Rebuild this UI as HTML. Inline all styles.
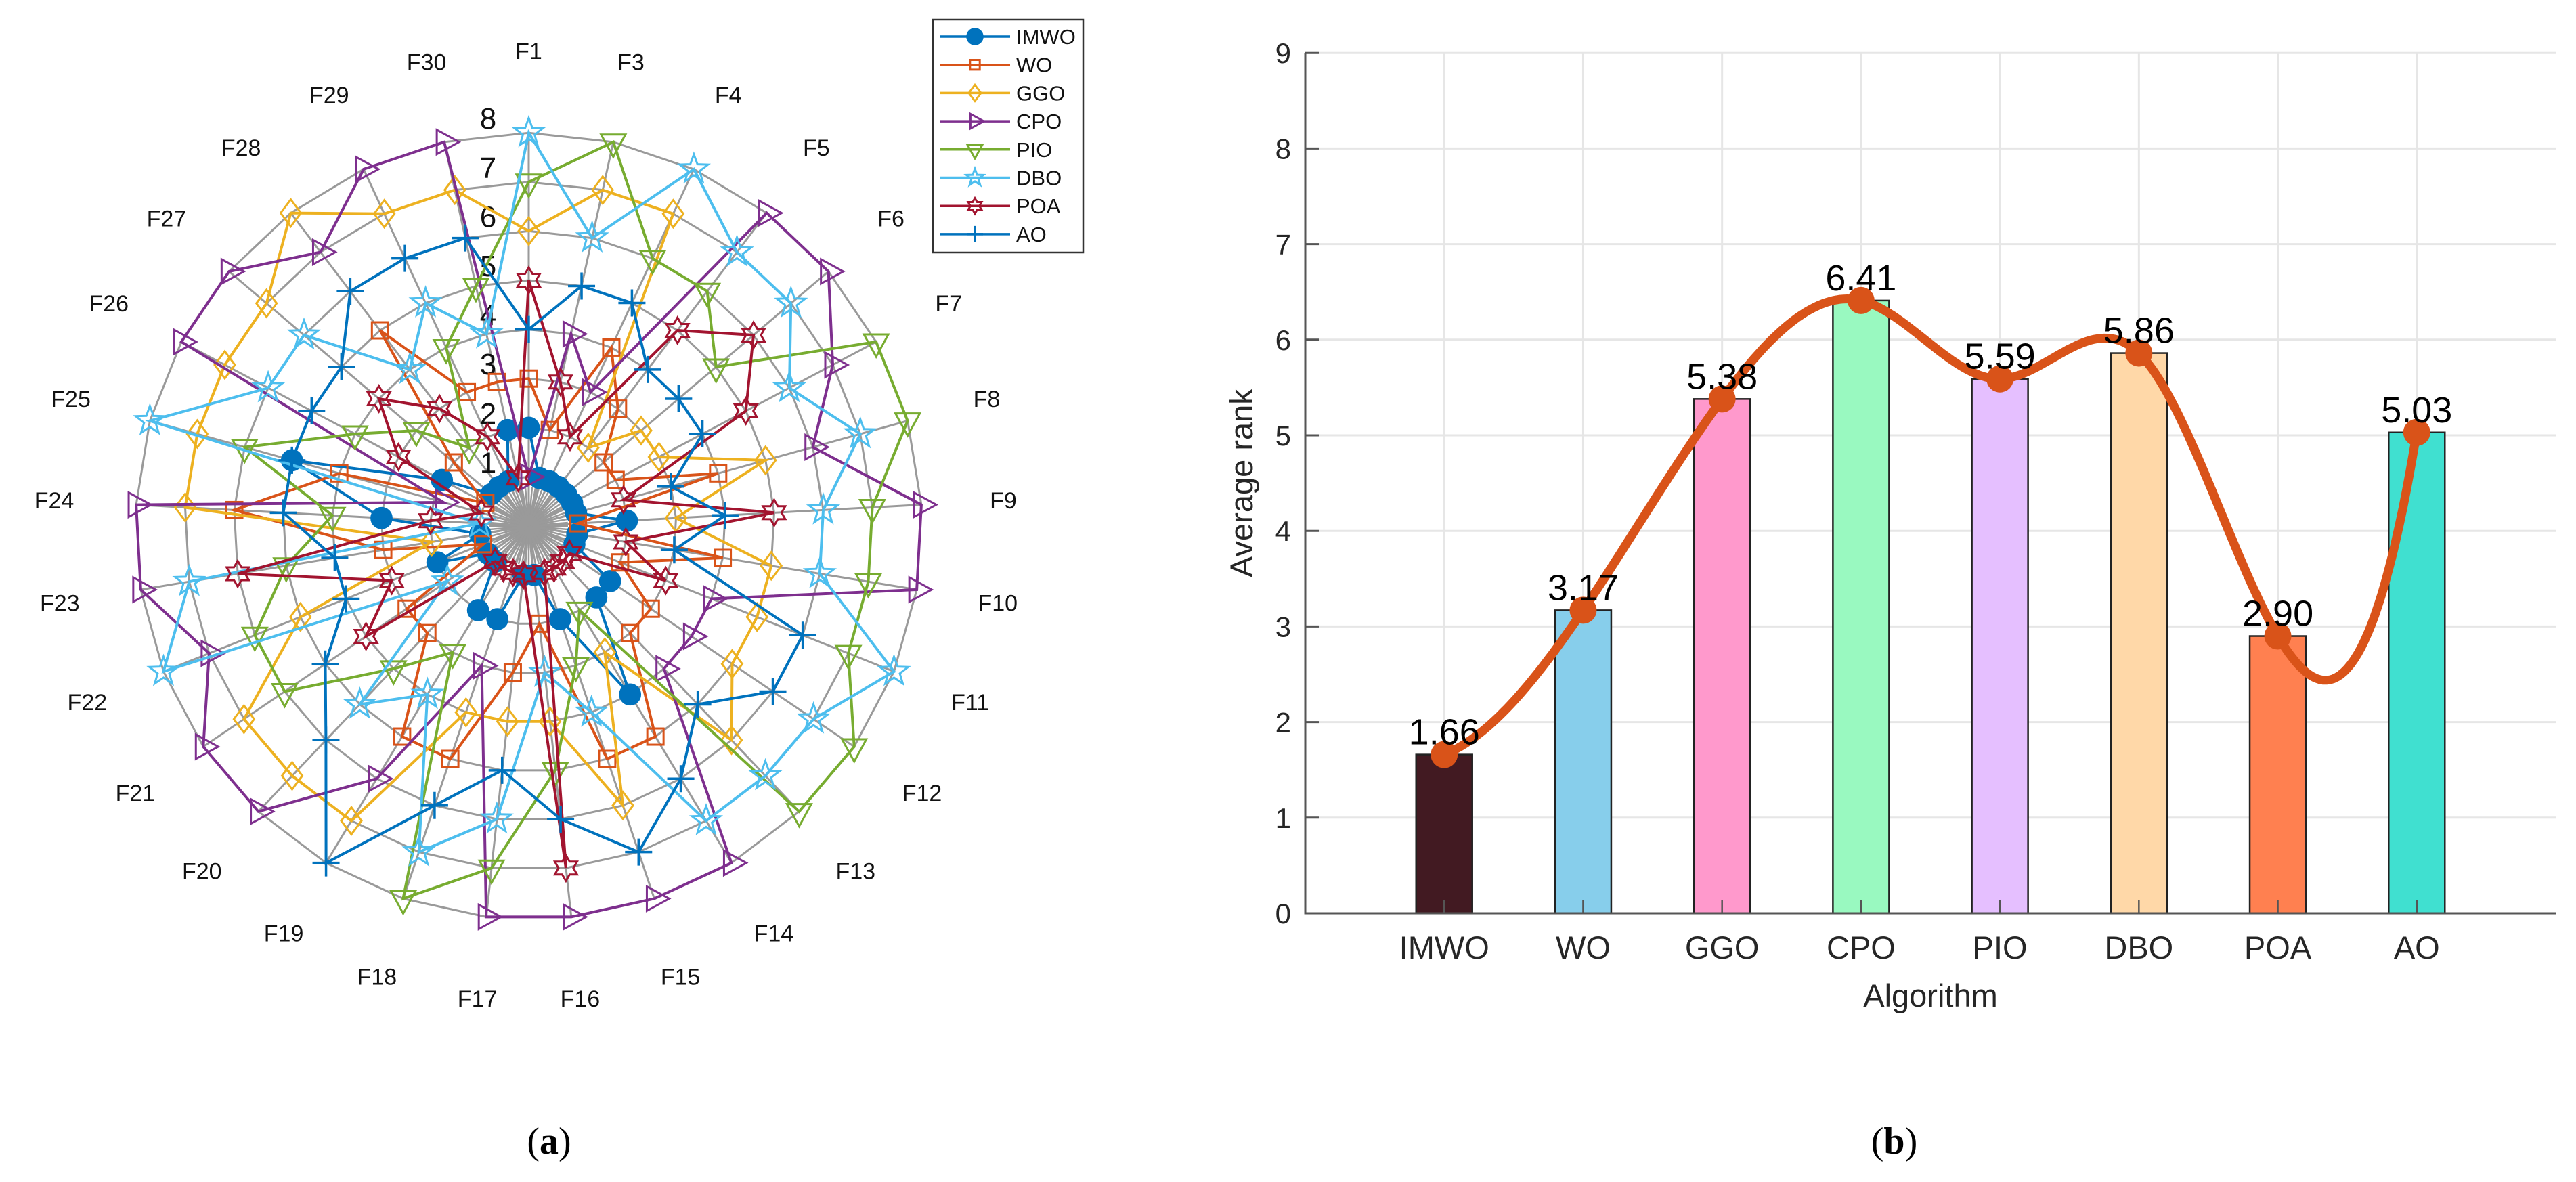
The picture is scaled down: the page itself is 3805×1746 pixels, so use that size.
<!DOCTYPE html>
<html><head><meta charset="utf-8"><style>
html,body{margin:0;padding:0;background:#fff;}
svg{display:block;}
text{font-family:"Liberation Sans",Arial,sans-serif;}
</style></head>
<body>
<svg id="root" width="3805" height="1746" viewBox="0 0 3805 1746" xmlns="http://www.w3.org/2000/svg">
<g id="radar"></g>
<g id="bar"></g>
<text x="811" y="1704" text-anchor="middle" style="font-family:'Liberation Serif',serif;font-size:56px">(<tspan font-weight="bold">a</tspan>)</text>
<text x="2798" y="1704" text-anchor="middle" style="font-family:'Liberation Serif',serif;font-size:56px">(<tspan font-weight="bold">b</tspan>)</text>
</svg>
<script>
// ---------- Radar data ----------
const funcs = ["F1","F3","F4","F5","F6","F7","F8","F9","F10","F11","F12","F13","F14","F15","F16","F17","F18","F19","F20","F21","F22","F23","F24","F25","F26","F27","F28","F29","F30"];
const seriesNames = ["IMWO","WO","GGO","CPO","PIO","DBO","POA","AO"];
const imwo = [2,1,1,1,1,1,1,2,1,1,2,2,4,2,1,1,2,2,1,1,2,1,3,5,2,1,1,1,2];
const wo   = [3,2,4,3,2,2,4,1,4,2,3,3,5,5,2,3,5,5,3,3,1,3,6,4,1,2,5,3,3];
const ggo  = [6,7,7,2,3,3,5,3,5,5,5,6,3,6,4,4,4,7,7,7,5,2,7,7,7,7,8,7,7];
const cpo  = [1,4,3,8,8,7,6,8,8,4,4,4,8,8,8,8,3,6,8,8,7,8,8,1.8,8,8,7,8,8];
const pio  = [7,8,6,6,5,8,8,7,7,7,8,8,2,3,5,7,8,3,4,6,6,5,4,6,4,3,2,4,5];
const dbo  = [8,6,8,7,7,6,7,6,6,8,7,7,7,4,3,6,7,4,5,2,8,7,1,8,6,6,4,5,4];
const poa  = [5,3,2,5,6,5,2,5,2,3,1,1,1,1,7,1,1,1,1,4,3,6,2,1,3,4,3,2,1];
const ao   = [4,5,5,4,4,4,3,4,3,6,6,5,6,7,6,5,6,8,6,5,4,4,5,5,5,5,6,6,6];
const ringTicks = [1,2,3,4,5,6,7,8];

// ---------- Bar data ----------
const algos = ["IMWO","WO","GGO","CPO","PIO","DBO","POA","AO"];
const avgRank = [1.66,3.17,5.38,6.41,5.59,5.86,2.90,5.03];
const valueLabels = ["1.66","3.17","5.38","6.41","5.59","5.86","2.90","5.03"];
const yTicks = [0,1,2,3,4,5,6,7,8,9];

const NS="http://www.w3.org/2000/svg";
function mk(tag, attrs, parent){const e=document.createElementNS(NS,tag);for(const k in attrs)e.setAttribute(k,attrs[k]);if(parent)parent.appendChild(e);return e;}

// ===== Radar =====
const R=document.getElementById('radar');
const cx=781, cy=777, unit=72.6, N=funcs.length;
function ang(i){return i*2*Math.PI/N;}
function px(i,v){return cx+Math.sin(ang(i))*v*unit;}
function py(i,v){return cy-Math.cos(ang(i))*v*unit;}

const hub=mk('g',{},R);


for(let k=0;k<72;k++){const a=k*2*Math.PI/72;mk('line',{x1:cx,y1:cy,x2:cx+Math.sin(a)*58,y2:cy-Math.cos(a)*58,stroke:'#999',"stroke-width":2.5},hub);}
ringTicks.forEach(r=>{
  let pts=[];for(let i=0;i<N;i++)pts.push(px(i,r).toFixed(1)+','+py(i,r).toFixed(1));
  const p=mk('polygon',{points:pts.join(' '),fill:'none',stroke:'#9a9a9a','stroke-width':3},R);
  
  
});
for(let i=0;i<N;i++){
  const l=mk('line',{x1:cx,y1:cy,x2:px(i,8),y2:py(i,8),stroke:'#9a9a9a','stroke-width':3},R);
  
  
}
ringTicks.forEach(r=>{
  const t=mk('text',{x:721,y:cy-r*unit-6,'font-size':44,'text-anchor':'middle',fill:'#111'},R);
  t.textContent=String(r);
  
  
});
for(let i=0;i<N;i++){
  const t=mk('text',{x:cx+Math.sin(ang(i))*702,y:cy-Math.cos(ang(i))*702+12,'font-size':34,'text-anchor':'middle',fill:'#111'},R);
  t.textContent=funcs[i];
  
  
}
const colors=['#0072BD','#D95319','#EDB120','#7E2F8E','#77AC30','#4DBEEE','#A2142F','#0072BD'];
const shapes=['circle','square','diamond','tri-right','tri-down','star5','hex','plus'];
function marker(g,shape,x,y,s,col){
  let e;
  if(shape==='circle'){e=mk('circle',{cx:x,cy:y,r:s*0.72,fill:col,stroke:col},g);}
  else if(shape==='square'){e=mk('rect',{x:x-s*0.6,y:y-s*0.6,width:s*1.2,height:s*1.2,fill:'none',stroke:col,'stroke-width':3},g);}
  else if(shape==='diamond'){e=mk('polygon',{points:`${x},${y-s} ${x+s*0.75},${y} ${x},${y+s} ${x-s*0.75},${y}`,fill:'none',stroke:col,'stroke-width':3},g);}
  else if(shape==='tri-right'){e=mk('polygon',{points:`${x-s*0.55},${y-s*0.9} ${x+s*1.1},${y} ${x-s*0.55},${y+s*0.9}`,fill:'none',stroke:col,'stroke-width':3},g);}
  else if(shape==='tri-down'){e=mk('polygon',{points:`${x-s*0.9},${y-s*0.55} ${x+s*0.9},${y-s*0.55} ${x},${y+s*1.1}`,fill:'none',stroke:col,'stroke-width':3},g);}
  else if(shape==='star5'){let p=[];for(let k=0;k<10;k++){const rr=k%2?s*0.45:s*1.1;const a=k*Math.PI/5;p.push((x+Math.sin(a)*rr).toFixed(1)+','+(y-Math.cos(a)*rr).toFixed(1));}e=mk('polygon',{points:p.join(' '),fill:'none',stroke:col,'stroke-width':3},g);}
  else if(shape==='hex'){let p=[];for(let k=0;k<12;k++){const rr=k%2?s*0.55:s*0.95;const a=k*Math.PI/6;p.push((x+Math.sin(a)*rr).toFixed(1)+','+(y-Math.cos(a)*rr).toFixed(1));}e=mk('polygon',{points:p.join(' '),fill:'none',stroke:col,'stroke-width':3},g);}
  else {e=mk('path',{d:`M${x-s} ${y}H${x+s}M${x} ${y-s}V${y+s}`,stroke:col,'stroke-width':3.5,fill:'none'},g);}
  return e;
}
const allSeries=[imwo,wo,ggo,cpo,pio,dbo,poa,ao];
allSeries.forEach((vals,si)=>{
  const g=mk('g',{},R);
  
  
  let pts=[];for(let i=0;i<N;i++)pts.push(px(i,vals[i]).toFixed(1)+','+py(i,vals[i]).toFixed(1));
  const pl=mk('polygon',{points:pts.join(' '),fill:'none',stroke:colors[si],'stroke-width':4},g);
  
  
  for(let i=0;i<N;i++){
    const m=marker(g,shapes[si],px(i,vals[i]),py(i,vals[i]),si===0?22:20,colors[si]);
    
    
  }
});
const lg=mk('g',{},R);


mk('rect',{x:1378,y:29,width:222,height:344,fill:'#fff',stroke:'#333','stroke-width':2.5},lg);
seriesNames.forEach((n,si)=>{
  const y=54+si*41.7;
  const e=mk('g',{},lg);
  
  
  mk('line',{x1:1388,y1:y,x2:1492,y2:y,stroke:colors[si],'stroke-width':3.5},e);
  marker(e,shapes[si],1440,y,si===0?17:12,colors[si]);
  const t=mk('text',{x:1501,y:y+11,'font-size':31,fill:'#111'},e);
  t.textContent=n;
});

// ===== Bar chart =====
const B=document.getElementById('bar');
const x0=1928, x1=3775, yb=1349, uy=141.2, ux=(x1-x0)/9;
function X(i){return x0+(i+1)*ux;}
function Y(v){return yb-v*uy;}
const barColors=['#421A22','#87CEEB','#FF99CC','#99F9C0','#E5BFFF','#FFD8A8','#FF8050','#40E0D0'];
yTicks.forEach(t=>{
  if(t>0){const l=mk('line',{x1:x0,y1:Y(t),x2:x1,y2:Y(t),stroke:'#e6e6e6','stroke-width':3},B);
  
  }
});
algos.forEach((a,i)=>{
  const l=mk('line',{x1:X(i),y1:Y(9),x2:X(i),y2:yb,stroke:'#e6e6e6','stroke-width':3},B);
  
  
});
algos.forEach((a,i)=>{
  const r=mk('rect',{x:X(i)-41.5,y:Y(avgRank[i]),width:83,height:yb-Y(avgRank[i]),fill:barColors[i],stroke:'#222','stroke-width':2.5},B);
  
  
  const tk=mk('line',{x1:X(i),y1:yb,x2:X(i),y2:yb-20,stroke:'#555','stroke-width':2.5},B);
  
  
  const t=mk('text',{x:X(i),y:1416,'font-size':47,'text-anchor':'middle',fill:'#262626'},B);
  t.textContent=a;
  
  
});
const ax=mk('path',{d:`M${x0} ${Y(9)}V${yb}H${x1}`,fill:'none',stroke:'#555','stroke-width':3},B);


yTicks.forEach(t=>{
  const l=mk('line',{x1:x0,y1:Y(t),x2:x0+20,y2:Y(t),stroke:'#555','stroke-width':3},B);
  
  
  const tx=mk('text',{x:1907,y:Y(t)+15,'font-size':42,'text-anchor':'end',fill:'#262626'},B);
  tx.textContent=String(t);
  
  
});
const yl=mk('text',{x:0,y:0,'font-size':47,'text-anchor':'middle',fill:'#262626',transform:`translate(1850,${Y(4.5)}) rotate(-90)`},B);
yl.textContent='Average rank';


const xl=mk('text',{x:(x0+x1)/2,y:1487,'font-size':47,'text-anchor':'middle',fill:'#262626'},B);
xl.textContent='Algorithm';


// not-a-knot cubic spline (MATLAB spline), h = 1
(function(){
  const n=avgRank.length, ys=avgRank;
  const A=[];const rhs=[];
  for(let i=0;i<n;i++){A.push(new Array(n).fill(0));rhs.push(0);}
  A[0][0]=1;A[0][1]=-2;A[0][2]=1;
  A[n-1][n-3]=1;A[n-1][n-2]=-2;A[n-1][n-1]=1;
  for(let i=1;i<n-1;i++){A[i][i-1]=1;A[i][i]=4;A[i][i+1]=1;rhs[i]=6*(ys[i+1]-2*ys[i]+ys[i-1]);}
  for(let k=0;k<n;k++){
    let p=k;for(let r=k+1;r<n;r++)if(Math.abs(A[r][k])>Math.abs(A[p][k]))p=r;
    [A[k],A[p]]=[A[p],A[k]];[rhs[k],rhs[p]]=[rhs[p],rhs[k]];
    for(let r=k+1;r<n;r++){const f=A[r][k]/A[k][k];for(let c=k;c<n;c++)A[r][c]-=f*A[k][c];rhs[r]-=f*rhs[k];}
  }
  const M=new Array(n).fill(0);
  for(let k=n-1;k>=0;k--){let s=rhs[k];for(let c=k+1;c<n;c++)s-=A[k][c]*M[c];M[k]=s/A[k][k];}
  let path='';
  for(let i=0;i<n-1;i++){
    for(let s=0;s<=40;s++){
      const t=s/40;
      const v=(1-t)*ys[i]+t*ys[i+1]+(((1-t)**3-(1-t))*M[i]+(t**3-t)*M[i+1])/6;
      const px_=x0+(i+1+t)*ux;
      path+=(path?'L':'M')+px_.toFixed(1)+' '+Y(v).toFixed(1);
    }
  }
  const p=mk('path',{d:path,fill:'none',stroke:'#D95319','stroke-width':13,'stroke-linejoin':'round'},B);
  
  
})();
algos.forEach((a,i)=>{
  const c=mk('circle',{cx:X(i),cy:Y(avgRank[i]),r:20,fill:'#D95319'},B);
  
  
  const t=mk('text',{x:X(i),y:Y(avgRank[i])-15,'font-size':54,'text-anchor':'middle',fill:'#000'},B);
  t.textContent=valueLabels[i];
  
  
});
</script>
</body></html>
